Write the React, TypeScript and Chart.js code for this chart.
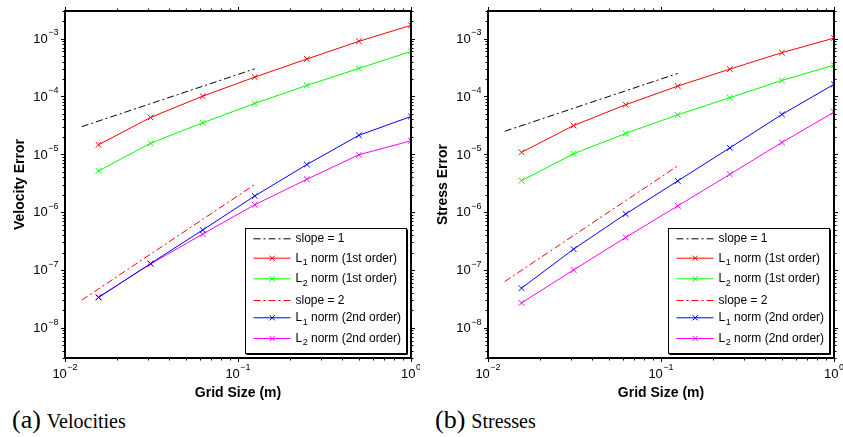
import React, { useEffect, useRef } from "react";
import { Chart, registerables } from "chart.js";
Chart.register(...registerables);

// ---------- data ----------
const gridSize = [0.015625, 0.03125, 0.0625, 0.125, 0.25, 0.5, 1];
const slopeX = [0.0125, 0.125];

const velL1First = [1.46e-5, 4.33e-5, 1.01e-4, 2.16e-4, 4.43e-4, 8.98e-4, 1.7e-3];
const velL2First = [5.15e-6, 1.55e-5, 3.5e-5, 7.57e-5, 1.55e-4, 3.05e-4, 6.0e-4];
const velL1Second = [3.33e-8, 1.29e-7, 4.9e-7, 1.9e-6, 6.64e-6, 2.13e-5, 4.5e-5];
const velL2Second = [3.4e-8, 1.27e-7, 4.17e-7, 1.34e-6, 3.69e-6, 9.8e-6, 1.71e-5];
const velSlope1 = [3e-5, 3e-4];
const velSlope2 = [3e-8, 3e-6];

const strL1First = [1.08e-5, 3.14e-5, 7.18e-5, 1.51e-4, 2.97e-4, 5.71e-4, 1.02e-3];
const strL2First = [3.5e-6, 1.02e-5, 2.29e-5, 4.82e-5, 9.5e-5, 1.89e-4, 3.48e-4];
const strL1Second = [4.84e-8, 2.29e-7, 9.27e-7, 3.46e-6, 1.29e-5, 4.88e-5, 1.62e-4];
const strL2Second = [2.69e-8, 1.0e-7, 3.65e-7, 1.28e-6, 4.5e-6, 1.6e-5, 5.35e-5];
const strSlope1 = [2.5e-5, 2.5e-4];
const strSlope2 = [6.3e-8, 6.3e-6];

const xTicks = [0.01, 0.1, 1];
const yTicks = [1e-8, 1e-7, 1e-6, 1e-5, 1e-4, 1e-3];
const xRange = [0.01, 1];
const yRange = [3e-9, 3e-3];

const seriesLabels = [
  "slope = 1",
  "L\u2081 norm (1st order)",
  "L\u2082 norm (1st order)",
  "slope = 2",
  "L\u2081 norm (2nd order)",
  "L\u2082 norm (2nd order)",
];
const seriesColors = ["#000000", "#ff0000", "#00ff00", "#ff0000", "#0000ff", "#ff00ff"];

const xTitle = "Grid Size (m)";
const yTitleVel = "Velocity Error";
const yTitleStr = "Stress Error";

// ---------- helpers ----------
const FONT = '"Liberation Sans", Arial, Helvetica, sans-serif';
const SUBMAP: Record<string, string> = { "\u2080": "0", "\u2081": "1", "\u2082": "2" };

const expOf = (v: number) => {
  const e = Math.round(Math.log10(v));
  return (e < 0 ? "\u2212" : "") + String(Math.abs(e));
};

function drawRich(ctx: CanvasRenderingContext2D, text: string, x: number, y: number) {
  let cx = x;
  let buf = "";
  const flush = () => {
    if (!buf) return;
    ctx.font = `12px ${FONT}`;
    ctx.fillText(buf, cx, y);
    cx += ctx.measureText(buf).width;
    buf = "";
  };
  for (const ch of text) {
    if (SUBMAP[ch]) {
      flush();
      ctx.font = `9px ${FONT}`;
      ctx.fillText(SUBMAP[ch], cx + 0.5, y + 4.5);
      cx += ctx.measureText(SUBMAP[ch]).width + 0.5;
    } else buf += ch;
  }
  flush();
}

// draws "10" with a raised exponent; anchor: 'center' (x = centre) or 'right' (x = right edge)
function drawPow(ctx: CanvasRenderingContext2D, v: number, x: number, baseline: number, anchor: string) {
  const base = "10";
  const sup = expOf(v);
  ctx.font = `13px ${FONT}`;
  const wb = ctx.measureText(base).width;
  ctx.font = `9px ${FONT}`;
  const ws = ctx.measureText(sup).width;
  const total = wb + ws + 0.5;
  const x0 = anchor === "center" ? x - total / 2 : x - total;
  ctx.textAlign = "left";
  ctx.textBaseline = "alphabetic";
  ctx.font = `13px ${FONT}`;
  ctx.fillText(base, x0, baseline);
  ctx.font = `9px ${FONT}`;
  ctx.fillText(sup, x0 + wb + 0.5, baseline - 7.5);
}

const legendRows = [10.3, 29.7, 50.3, 72, 89.3, 110];

const framePlugin = {
  id: "matlabFrame",
  afterDatasetsDraw(chart: any) {
    const { ctx, chartArea: a, scales } = chart;
    const xs = scales.x;
    const ys = scales.y;
    ctx.save();
    ctx.strokeStyle = "#000";
    ctx.lineWidth = 1;
    const seg = (x1: number, y1: number, x2: number, y2: number) => {
      ctx.beginPath();
      ctx.moveTo(x1, y1);
      ctx.lineTo(x2, y2);
      ctx.stroke();
    };
    // minor + major ticks, outside the frame on all four sides
    for (let e = Math.floor(Math.log10(xs.min)); e <= Math.ceil(Math.log10(xs.max)); e++) {
      for (let k = 1; k <= 9; k++) {
        const v = k * Math.pow(10, e);
        if (v < xs.min * 0.999 || v > xs.max * 1.001) continue;
        const px = Math.round(xs.getPixelForValue(v)) + 0.5;
        const len = k === 1 ? 4 : 2.5;
        seg(px, a.bottom, px, a.bottom + len);
        seg(px, a.top, px, a.top - len);
      }
    }
    for (let e = Math.floor(Math.log10(ys.min)); e <= Math.ceil(Math.log10(ys.max)); e++) {
      for (let k = 1; k <= 9; k++) {
        const v = k * Math.pow(10, e);
        if (v < ys.min * 0.999 || v > ys.max * 1.001) continue;
        const py = Math.round(ys.getPixelForValue(v)) + 0.5;
        const len = k === 1 ? 4 : 2.5;
        seg(a.left, py, a.left - len, py);
        seg(a.right, py, a.right + len, py);
      }
    }
    ctx.lineWidth = 2;
    ctx.strokeRect(a.left, a.top, a.right - a.left, a.bottom - a.top);

    // tick labels (power-of-ten with superscript exponent)
    ctx.fillStyle = "#000";
    xs.ticks.forEach((t: any) => {
      drawPow(ctx, t.value, xs.getPixelForValue(t.value), a.bottom + 19.7, "center");
    });
    ys.ticks.forEach((t: any) => {
      drawPow(ctx, t.value, a.left - 6.5, ys.getPixelForValue(t.value) + 4.4, "right");
    });

    // legend box
    const bw = 161;
    const bh = 125;
    const bx = Math.round(a.right - 166) + 0.5;
    const by = Math.round(a.bottom - 130.5) + 0.5;
    ctx.fillStyle = "#fff";
    ctx.fillRect(bx, by, bw, bh);
    ctx.lineWidth = 1;
    ctx.strokeRect(bx, by, bw, bh);
    seg(bx + bw + 1, by + 1, bx + bw + 1, by + bh + 1);
    seg(bx + 1, by + bh + 1, bx + bw + 1, by + bh + 1);

    chart.data.datasets.forEach((ds: any, i: number) => {
      const ry = by + legendRows[i];
      ctx.save();
      ctx.strokeStyle = ds.borderColor;
      ctx.lineWidth = 1;
      ctx.setLineDash(ds.borderDash || []);
      seg(bx + 8, ry, bx + 45, ry);
      ctx.restore();
      if (ds.pointRadius > 0) {
        ctx.save();
        ctx.strokeStyle = ds.borderColor;
        ctx.lineWidth = 1;
        const mx = bx + 26.7;
        const r = 2.6;
        seg(mx - r, ry - r, mx + r, ry + r);
        seg(mx - r, ry + r, mx + r, ry - r);
        ctx.restore();
      }
      ctx.fillStyle = "#000";
      ctx.textBaseline = "middle";
      ctx.textAlign = "left";
      drawRich(ctx, ds.label, bx + 50, ry);
    });
    ctx.restore();
  },
};

type PanelProps = {
  l1f: number[]; l2f: number[]; l1s: number[]; l2s: number[];
  s1: number[]; s2: number[]; yTitle: string;
};

const W = 420;
const H = 401;

function Panel({ l1f, l2f, l1s, l2s, s1, s2, yTitle }: PanelProps) {
  const ref = useRef<HTMLCanvasElement | null>(null);
  useEffect(() => {
    if (!ref.current) return;
    const pts = (ys: number[]) => ys.map((y, i) => ({ x: gridSize[i], y }));
    const sl = (ys: number[]) => ys.map((y, i) => ({ x: slopeX[i], y }));
    const dash = [7, 3, 2, 3];
    const lineDs = (i: number, data: any[]) => ({
      label: seriesLabels[i], data, borderColor: seriesColors[i], backgroundColor: seriesColors[i],
      borderWidth: 1, pointStyle: "crossRot", pointRadius: 4, pointBorderWidth: 1,
      pointBorderColor: seriesColors[i], fill: false, tension: 0,
    });
    const slopeDs = (i: number, data: any[]) => ({
      label: seriesLabels[i], data, borderColor: seriesColors[i], backgroundColor: seriesColors[i],
      borderWidth: 1, borderDash: dash, pointRadius: 0, fill: false, tension: 0,
    });
    const chart = new Chart(ref.current, {
      type: "line",
      data: {
        datasets: [
          slopeDs(0, sl(s1)),
          lineDs(1, pts(l1f)),
          lineDs(2, pts(l2f)),
          slopeDs(3, sl(s2)),
          lineDs(4, pts(l1s)),
          lineDs(5, pts(l2s)),
        ] as any,
      },
      options: {
        responsive: false,
        animation: false,
        devicePixelRatio: 1,
        layout: { padding: { top: 11, right: 9, left: 0, bottom: 0 } },
        plugins: { legend: { display: false }, tooltip: { enabled: false } },
        scales: {
          x: {
            type: "logarithmic",
            min: xRange[0],
            max: xRange[1],
            grid: { display: false },
            border: { display: false },
            afterBuildTicks: (s: any) => { s.ticks = xTicks.map((v) => ({ value: v })); },
            afterFit: (s: any) => { s.height = 43; s.paddingLeft = 0; s.paddingRight = 0; },
            ticks: { display: false, autoSkip: false, maxRotation: 0, minRotation: 0 },
            title: {
              display: true, text: xTitle, color: "#000",
              font: { family: FONT, size: 14, weight: "bold" }, padding: { top: 0, bottom: -1 },
            },
          },
          y: {
            type: "logarithmic",
            min: yRange[0],
            max: yRange[1],
            grid: { display: false },
            border: { display: false },
            afterBuildTicks: (s: any) => { s.ticks = yTicks.map((v) => ({ value: v })); },
            afterFit: (s: any) => { s.width = 65; },
            ticks: { display: false, autoSkip: false },
            title: {
              display: true, text: yTitle, color: "#000",
              font: { family: FONT, size: 14, weight: "bold" }, padding: { top: 12, bottom: 0 },
            },
          },
        },
      } as any,
      plugins: [framePlugin],
    });
    return () => chart.destroy();
  }, []);
  return <canvas ref={ref} width={W} height={H} style={{ width: W, height: H, display: "block" }} />;
}

const serif = '"Liberation Serif", "Times New Roman", Times, serif';

function Caption({ tag, text, left }: { tag: string; text: string; left: number }) {
  return (
    <div style={{ position: "absolute", left, top: 407, fontFamily: serif, lineHeight: "26px", whiteSpace: "nowrap", color: "#000" }}>
      <span style={{ fontSize: 26 }}>{tag}</span>
      <span style={{ fontSize: 20, marginLeft: 6 }}>{text}</span>
    </div>
  );
}

export default function App() {
  return (
    <div style={{ position: "absolute", left: 0, top: 0, width: 843, height: 437, background: "#fff", overflow: "hidden" }}>
      <div style={{ position: "absolute", left: 0, top: 0 }}>
        <Panel l1f={velL1First} l2f={velL2First} l1s={velL1Second} l2s={velL2Second} s1={velSlope1} s2={velSlope2} yTitle={yTitleVel} />
      </div>
      <div style={{ position: "absolute", left: 423, top: 0 }}>
        <Panel l1f={strL1First} l2f={strL2First} l1s={strL1Second} l2s={strL2Second} s1={strSlope1} s2={strSlope2} yTitle={yTitleStr} />
      </div>
      <Caption tag="(a)" text="Velocities" left={12} />
      <Caption tag="(b)" text="Stresses" left={435} />
    </div>
  );
}
